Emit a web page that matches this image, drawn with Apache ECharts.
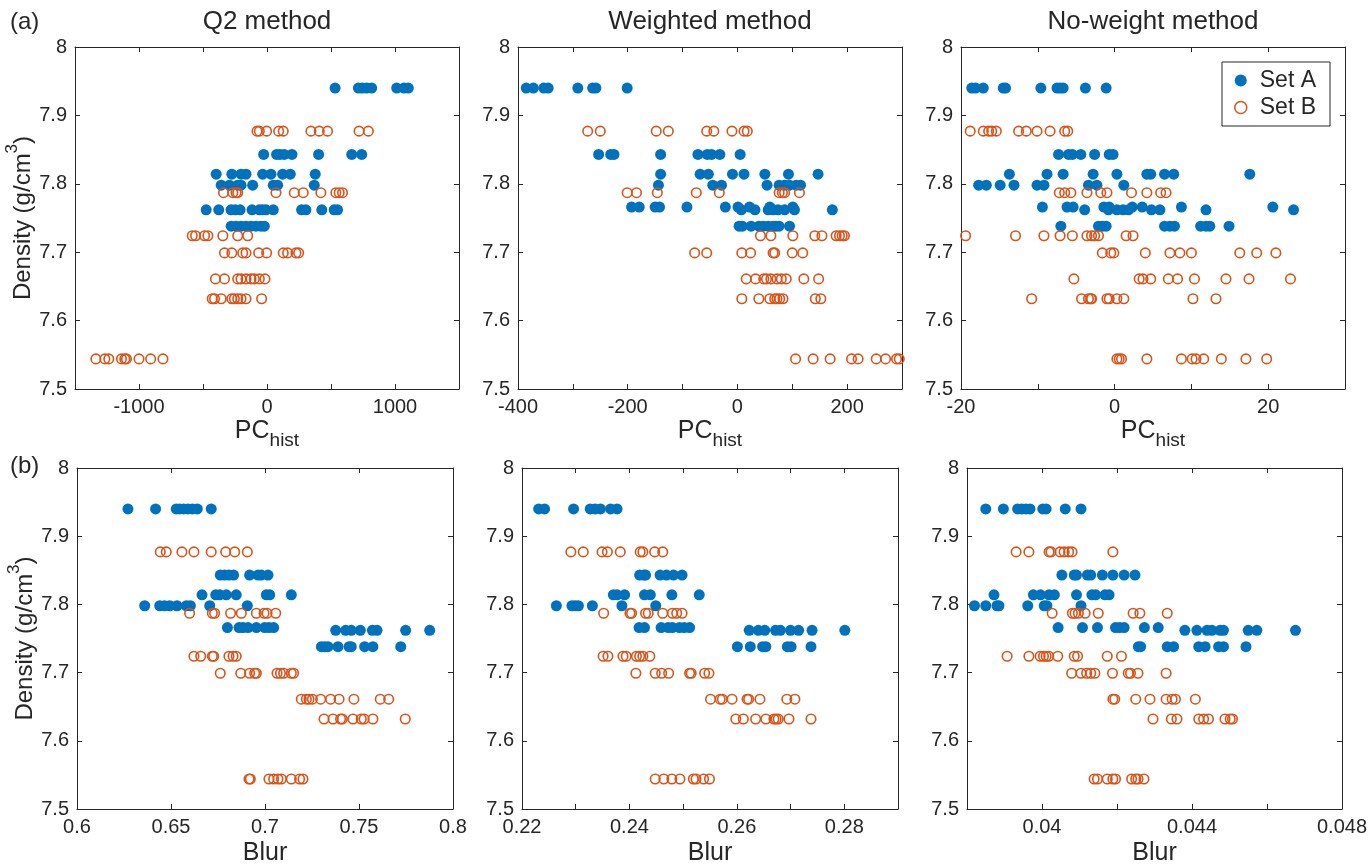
<!DOCTYPE html>
<html><head><meta charset="utf-8">
<script src="https://cdn.jsdelivr.net/npm/echarts@6/dist/echarts.min.js"></script>
<style>html,body{margin:0;padding:0;background:#fff}#c{width:1370px;height:867px}</style>
</head><body><div id="c"></div>
<script>
// Density levels (g/cm^3)
const densityA = [7.94, 7.843, 7.814, 7.798, 7.766, 7.762, 7.738];
const densityB = [7.877, 7.787, 7.724, 7.699, 7.661, 7.632, 7.544];

// (a) PC_hist — Q2 method (x lists per density level)
const q2A = [
  [532, 714, 745, 779, 818, 1013, 1070, 1104],
  [-26, 75, 101, 135, 195, 403, 662, 740],
  [-397, -275, -203, -164, -34, 31, 122, 182, 377],
  [-358, -293, -229, -203, -112, 49, 83, 369],
  [],
  [-475, -377, -281, -249, -210, -117, -60, -34, -8, 49, 270, 304, 428, 525, 551],
  [-280, -242, -203, -164, -125, -86, -47, -21]
];
const q2B = [
  [-78, -60, -3, 91, 127, 343, 408, 473, 719, 792],
  [-340, -267, -242, -229, 70, 213, 283, 421, 538, 564, 590],
  [-584, -558, -488, -462, -345, -229, -151],
  [-332, -275, -190, -164, -65, -3, 127, 161, 226, 247],
  [-403, -332, -229, -203, -164, -125, -99, -60, -16],
  [-428, -410, -358, -275, -255, -229, -203, -164, -42],
  [-1337, -1267, -1236, -1137, -1111, -1098, -1000, -909, -813]
];
// (a) Weighted method
const wA = [
  [-385, -372, -353, -345, -291, -264, -258, -201],
  [-253, -231, -225, -140, -72, -55, -47, -32, 5],
  [-140, -68, -53, -9, 12, 50, 93, 147],
  [-144, -45, -29, 54, 76, 86, 95, 107, 115],
  [-193, -179, -150, -142, -92, -22, 1, 22, 59, 101],
  [7, 32, 56, 65, 74, 86, 104, 173],
  [3, 9, 25, 39, 47, 56, 65, 70, 76, 95]
];
const wB = [
  [-273, -250, -148, -126, -56, -43, -10, 12, 18],
  [-201, -184, -146, -75, -33, 76, 82, 86, 113],
  [42, 61, 101, 141, 154, 180, 186, 191, 195],
  [-78, -56, 8, 24, 65, 68, 100, 119],
  [16, 33, 48, 53, 61, 72, 80, 89, 121, 148],
  [8, 39, 59, 68, 72, 77, 83, 142, 152],
  [106, 138, 169, 208, 220, 253, 270, 290, 295]
];
// (a) No-weight method
const nA = [
  [-18.6, -18.1, -17.1, -14.5, -14.2, -9.6, -7.5, -7.1, -6.7, -3.8, -1.1],
  [-7.3, -6.0, -5.5, -4.4, -2.6, -0.7, -0.2],
  [-13.7, -8.8, -6.7, -2.8, 0.3, 4.2, 4.7, 6.5, 7.7, 17.6],
  [-17.7, -16.7, -14.9, -13.1, -10.1, -9.2, -3.4, -2.3, 1.2],
  [-9.4, -6.2, -5.4, -1.4, -0.7, 2.3, 3.6, 8.7, 20.6],
  [-3.9, -0.8, 0.3, 1.1, 1.8, 4.8, 5.9, 11.9, 23.3],
  [-7.0, -2.1, -1.6, -1.1, 6.5, 7.2, 7.8, 11.2, 11.9, 12.4, 14.9]
];
const nB = [
  [-18.8, -17.1, -16.4, -16.0, -15.4, -12.5, -11.5, -10.1, -8.4, -6.5, -6.1],
  [-7.2, -6.5, -5.7, -3.6, -1.8, -1.0, 2.2, 4.2, 6.0, 6.7],
  [-19.4, -12.9, -9.2, -7.1, -5.5, -3.6, -3.0, -2.6, -2.1, 1.5, 2.4],
  [-1.6, -0.5, -0.1, 4.0, 7.2, 8.5, 10.0, 16.3, 18.5, 21.0],
  [-5.3, 3.2, 3.7, 4.7, 7.0, 8.2, 10.4, 14.5, 17.5, 22.9],
  [-10.8, -4.3, -3.4, -3.1, -3.0, -1.0, -0.7, 0.3, 1.2, 10.2, 13.2],
  [0.3, 0.6, 0.9, 4.2, 8.7, 10.1, 10.6, 11.6, 13.9, 17.1, 19.8]
];
// (b) Blur — Q2 method
const bqA = [
  [0.6271, 0.6418, 0.6528, 0.6546, 0.6567, 0.6590, 0.6613, 0.6640, 0.6714],
  [0.6762, 0.6785, 0.6808, 0.6833, 0.6918, 0.6963, 0.6980, 0.7016],
  [0.6665, 0.6738, 0.6759, 0.6794, 0.6847, 0.7007, 0.7025, 0.7140],
  [0.6360, 0.6440, 0.6466, 0.6493, 0.6532, 0.6582, 0.6603, 0.6706, 0.6906],
  [0.6800, 0.6862, 0.6883, 0.6910, 0.6954, 0.6998, 0.7021, 0.7046],
  [0.7376, 0.7429, 0.7459, 0.7507, 0.7571, 0.7596, 0.7748, 0.7876],
  [0.7300, 0.7318, 0.7335, 0.7388, 0.7447, 0.7459, 0.7530, 0.7574, 0.7722]
];
const bqB = [
  [0.6443, 0.6475, 0.6558, 0.6622, 0.6714, 0.6791, 0.6839, 0.6906],
  [0.6599, 0.6720, 0.6732, 0.6817, 0.6874, 0.6954, 0.6995, 0.7011, 0.7057],
  [0.6622, 0.6658, 0.6720, 0.6727, 0.6808, 0.6830, 0.6847],
  [0.6762, 0.6871, 0.6918, 0.6945, 0.6954, 0.7064, 0.7082, 0.7099, 0.7140, 0.7152],
  [0.7193, 0.7220, 0.7234, 0.7252, 0.7296, 0.7349, 0.7394, 0.7473, 0.7613, 0.7658],
  [0.7314, 0.7362, 0.7402, 0.7411, 0.7468, 0.7512, 0.7527, 0.7574, 0.7746],
  [0.6915, 0.6922, 0.7021, 0.7046, 0.7069, 0.7087, 0.7140, 0.7184, 0.7202]
];
// (b) Weighted method
const bwA = [
  [0.2231, 0.2242, 0.2296, 0.2327, 0.2336, 0.2346, 0.2365, 0.2377],
  [0.2419, 0.2427, 0.2430, 0.2457, 0.2469, 0.2482, 0.2498],
  [0.2370, 0.2377, 0.2391, 0.2428, 0.2439, 0.2479, 0.2530],
  [0.2264, 0.2293, 0.2299, 0.2305, 0.2331, 0.2386, 0.2449],
  [0.2418, 0.2428, 0.2459, 0.2472, 0.2480, 0.2493, 0.2502, 0.2512],
  [0.2623, 0.2640, 0.2652, 0.2672, 0.2681, 0.2700, 0.2715, 0.2740, 0.2801],
  [0.2601, 0.2625, 0.2648, 0.2654, 0.2694, 0.2701, 0.2738]
];
const bwB = [
  [0.2291, 0.2314, 0.2349, 0.2359, 0.2383, 0.2420, 0.2425, 0.2447, 0.2462],
  [0.2352, 0.2401, 0.2404, 0.2430, 0.2435, 0.2462, 0.2480, 0.2488, 0.2498],
  [0.2351, 0.2360, 0.2388, 0.2394, 0.2413, 0.2419, 0.2425, 0.2438],
  [0.2412, 0.2448, 0.2460, 0.2473, 0.2512, 0.2515, 0.2540, 0.2548],
  [0.2551, 0.2569, 0.2573, 0.2591, 0.2619, 0.2622, 0.2643, 0.2693, 0.2708],
  [0.2598, 0.2612, 0.2635, 0.2654, 0.2669, 0.2673, 0.2677, 0.2697, 0.2738],
  [0.2448, 0.2464, 0.2479, 0.2494, 0.2519, 0.2524, 0.2538, 0.2549]
];
// (b) No-weight method
const bnA = [
  [0.03850, 0.03897, 0.03935, 0.03946, 0.03957, 0.03968, 0.04002, 0.04011, 0.04062, 0.04104],
  [0.04053, 0.04086, 0.04092, 0.04121, 0.04130, 0.04161, 0.04189, 0.04219, 0.04248],
  [0.03872, 0.03977, 0.03996, 0.04019, 0.04033, 0.04092, 0.04133, 0.04143, 0.04168, 0.04179],
  [0.03820, 0.03850, 0.03880, 0.03885, 0.03962, 0.04006, 0.04013, 0.04104],
  [0.04043, 0.04108, 0.04148, 0.04196, 0.04207, 0.04219, 0.04273, 0.04310],
  [0.04381, 0.04413, 0.04440, 0.04453, 0.04475, 0.04484, 0.04550, 0.04573, 0.04676],
  [0.04257, 0.04263, 0.04334, 0.04351, 0.04418, 0.04435, 0.04471, 0.04484, 0.04544]
];
const bnB = [
  [0.03931, 0.03965, 0.04019, 0.04024, 0.04048, 0.04059, 0.04071, 0.04080, 0.04189],
  [0.04027, 0.04081, 0.04088, 0.04097, 0.04115, 0.04150, 0.04243, 0.04261, 0.04334],
  [0.03907, 0.03965, 0.03995, 0.04004, 0.04011, 0.04018, 0.04042, 0.04086, 0.04095, 0.04174, 0.04212],
  [0.04079, 0.04104, 0.04119, 0.04130, 0.04141, 0.04188, 0.04230, 0.04236, 0.04256, 0.04331],
  [0.04189, 0.04194, 0.04250, 0.04288, 0.04331, 0.04347, 0.04356, 0.04409],
  [0.04296, 0.04345, 0.04360, 0.04418, 0.04431, 0.04444, 0.04488, 0.04502, 0.04508],
  [0.04139, 0.04148, 0.04174, 0.04189, 0.04196, 0.04239, 0.04250, 0.04256, 0.04272]
];

const titles = ['Q2 method', 'Weighted method', 'No-weight method'];
const yTickLabels = ['7.5', '7.6', '7.7', '7.8', '7.9', '8'];

const FONT = "'Liberation Sans', Arial, Helvetica, sans-serif";
const INK = '#262626';
const BLUE = '#0072BD';
const ORANGE = '#D95319';

function pts(xLists, levels) {
  const out = [];
  xLists.forEach((xs, i) => xs.forEach(x => out.push([x, levels[i]])));
  return out;
}

const panels = [
  {grid: {left: 75, top: 47, width: 384, height: 342}, min: -1500, max: 1500, interval: 500,
   fmt: v => (Math.round(v) % 1000 === 0 ? String(Math.round(v)) : ''), name: 'pc', A: q2A, B: q2B},
  {grid: {left: 518, top: 47, width: 384, height: 342}, min: -400, max: 300, interval: 100,
   fmt: v => (Math.round(v) % 200 === 0 ? String(Math.round(v)) : ''), name: 'pc', A: wA, B: wB},
  {grid: {left: 961, top: 47, width: 384, height: 342}, min: -20, max: 30, interval: 10,
   fmt: v => (Math.round(v) % 20 === 0 ? String(Math.round(v)) : ''), name: 'pc', A: nA, B: nB},
  {grid: {left: 77, top: 468, width: 376, height: 341}, min: 0.6, max: 0.8, interval: 0.05,
   fmt: v => String(+(+v).toFixed(2)), name: 'blur', A: bqA, B: bqB},
  {grid: {left: 522, top: 468, width: 376, height: 341}, min: 0.22, max: 0.29, interval: 0.01,
   fmt: v => (Math.round(v * 100) % 2 === 0 ? String(+(+v).toFixed(2)) : ''), name: 'blur', A: bwA, B: bwB},
  {grid: {left: 967, top: 468, width: 377, height: 341}, min: 0.038, max: 0.048, interval: 0.002,
   fmt: v => (Math.round(v * 1000) % 4 === 0 ? String(+(+v).toFixed(3)) : ''), name: 'blur', A: bnA, B: bnB}
];

const grid = [], xAxis = [], yAxis = [], series = [];
const lineStyle = {color: INK, width: 1};
panels.forEach((p, i) => {
  grid.push(Object.assign({containLabel: false}, p.grid));
  const baseX = {type: 'value', gridIndex: i, min: p.min, max: p.max, interval: p.interval,
    splitLine: {show: false}, axisLine: {show: true, onZero: false, lineStyle},
    axisTick: {show: true, inside: true, length: 5, lineStyle}};
  xAxis.push(Object.assign({}, baseX, {
    position: 'bottom',
    axisLabel: {show: true, formatter: p.fmt, fontSize: 20, color: INK, fontFamily: FONT, margin: 8,
      showMinLabel: true, showMaxLabel: true},
    name: p.name === 'pc' ? '{m|PC}{s|hist}' : 'Blur',
    nameLocation: 'middle', nameGap: p.name === 'pc' ? 30 : 32,
    nameTextStyle: {fontSize: 25, color: INK, fontFamily: FONT,
      rich: {m: {fontSize: 25, color: INK, fontFamily: FONT, verticalAlign: 'top'},
             s: {fontSize: 19, color: INK, fontFamily: FONT, verticalAlign: 'top', padding: [12, 0, 0, 0]}}}
  }));
  xAxis.push(Object.assign({}, baseX, {position: 'top', axisLabel: {show: false}}));
  const baseY = {type: 'value', gridIndex: i, min: 7.5, max: 8, interval: 0.1,
    splitLine: {show: false}, axisLine: {show: true, onZero: false, lineStyle},
    axisTick: {show: true, inside: true, length: 5, lineStyle}};
  const yAx = Object.assign({}, baseY, {
    position: 'left',
    axisLabel: {show: true, fontSize: 20, color: INK, fontFamily: FONT, margin: 8,
      formatter: v => yTickLabels[Math.round((v - 7.5) * 10)]}
  });
  if (i === 0 || i === 3) {
    Object.assign(yAx, {
      name: '{a|Density (g/cm}{sup|3}{a|)}', nameLocation: 'middle', nameGap: 35,
      nameTextStyle: {fontSize: 24, color: INK, fontFamily: FONT,
        rich: {a: {fontSize: 24, color: INK, fontFamily: FONT, verticalAlign: 'top', padding: [7, 0, 0, 0]},
               sup: {fontSize: 17, color: INK, fontFamily: FONT, verticalAlign: 'top'}}}
    });
  }
  yAxis.push(yAx);
  yAxis.push(Object.assign({}, baseY, {position: 'right', axisLabel: {show: false}}));

  series.push({
    type: 'scatter', name: 'Set A', xAxisIndex: 2 * i, yAxisIndex: 2 * i,
    data: pts(p.A, densityA), symbol: 'circle', symbolSize: 11,
    itemStyle: {color: BLUE, opacity: 1}, emphasis: {disabled: true}, z: 2
  });
  series.push({
    type: 'scatter', name: 'Set B', xAxisIndex: 2 * i, yAxisIndex: 2 * i,
    data: pts(p.B, densityB), symbol: 'circle', symbolSize: 9.5,
    itemStyle: {color: 'rgba(255,255,255,0)', borderColor: ORANGE, borderWidth: 1.6, opacity: 1},
    emphasis: {disabled: true}, z: 3
  });
});

const graphic = [];
titles.forEach((t, i) => {
  const g = panels[i].grid;
  graphic.push({type: 'text', x: g.left + g.width / 2, y: 22,
    style: {text: t, fill: INK, fontSize: 26, fontFamily: FONT, align: 'center', verticalAlign: 'middle'}});
});
graphic.push({type: 'text', x: 10, y: 22, style: {text: '(a)', fill: INK, fontSize: 24, fontFamily: FONT, align: 'left', verticalAlign: 'middle'}});
graphic.push({type: 'text', x: 10, y: 466, style: {text: '(b)', fill: INK, fontSize: 24, fontFamily: FONT, align: 'left', verticalAlign: 'middle'}});

const chart = echarts.init(document.getElementById('c'), null, {renderer: 'canvas'});
chart.setOption({
  animation: false,
  backgroundColor: '#fff',
  grid, xAxis, yAxis, series, graphic,
  legend: {
    show: true, orient: 'vertical', left: 1222, top: 62,
    borderColor: INK, borderWidth: 1, borderRadius: 0, backgroundColor: '#fff',
    padding: [7, 14, 7, 12], itemGap: 4, itemWidth: 12, itemHeight: 12,
    textStyle: {fontSize: 23, color: INK, fontFamily: FONT, padding: [0, 0, 0, 8]},
    data: [
      {name: 'Set A', icon: 'circle', itemStyle: {color: BLUE}},
      {name: 'Set B', icon: 'circle', itemStyle: {color: 'rgba(255,255,255,0)', borderColor: ORANGE, borderWidth: 1.5}}
    ],
    selectedMode: false
  }
});
</script></body></html>
